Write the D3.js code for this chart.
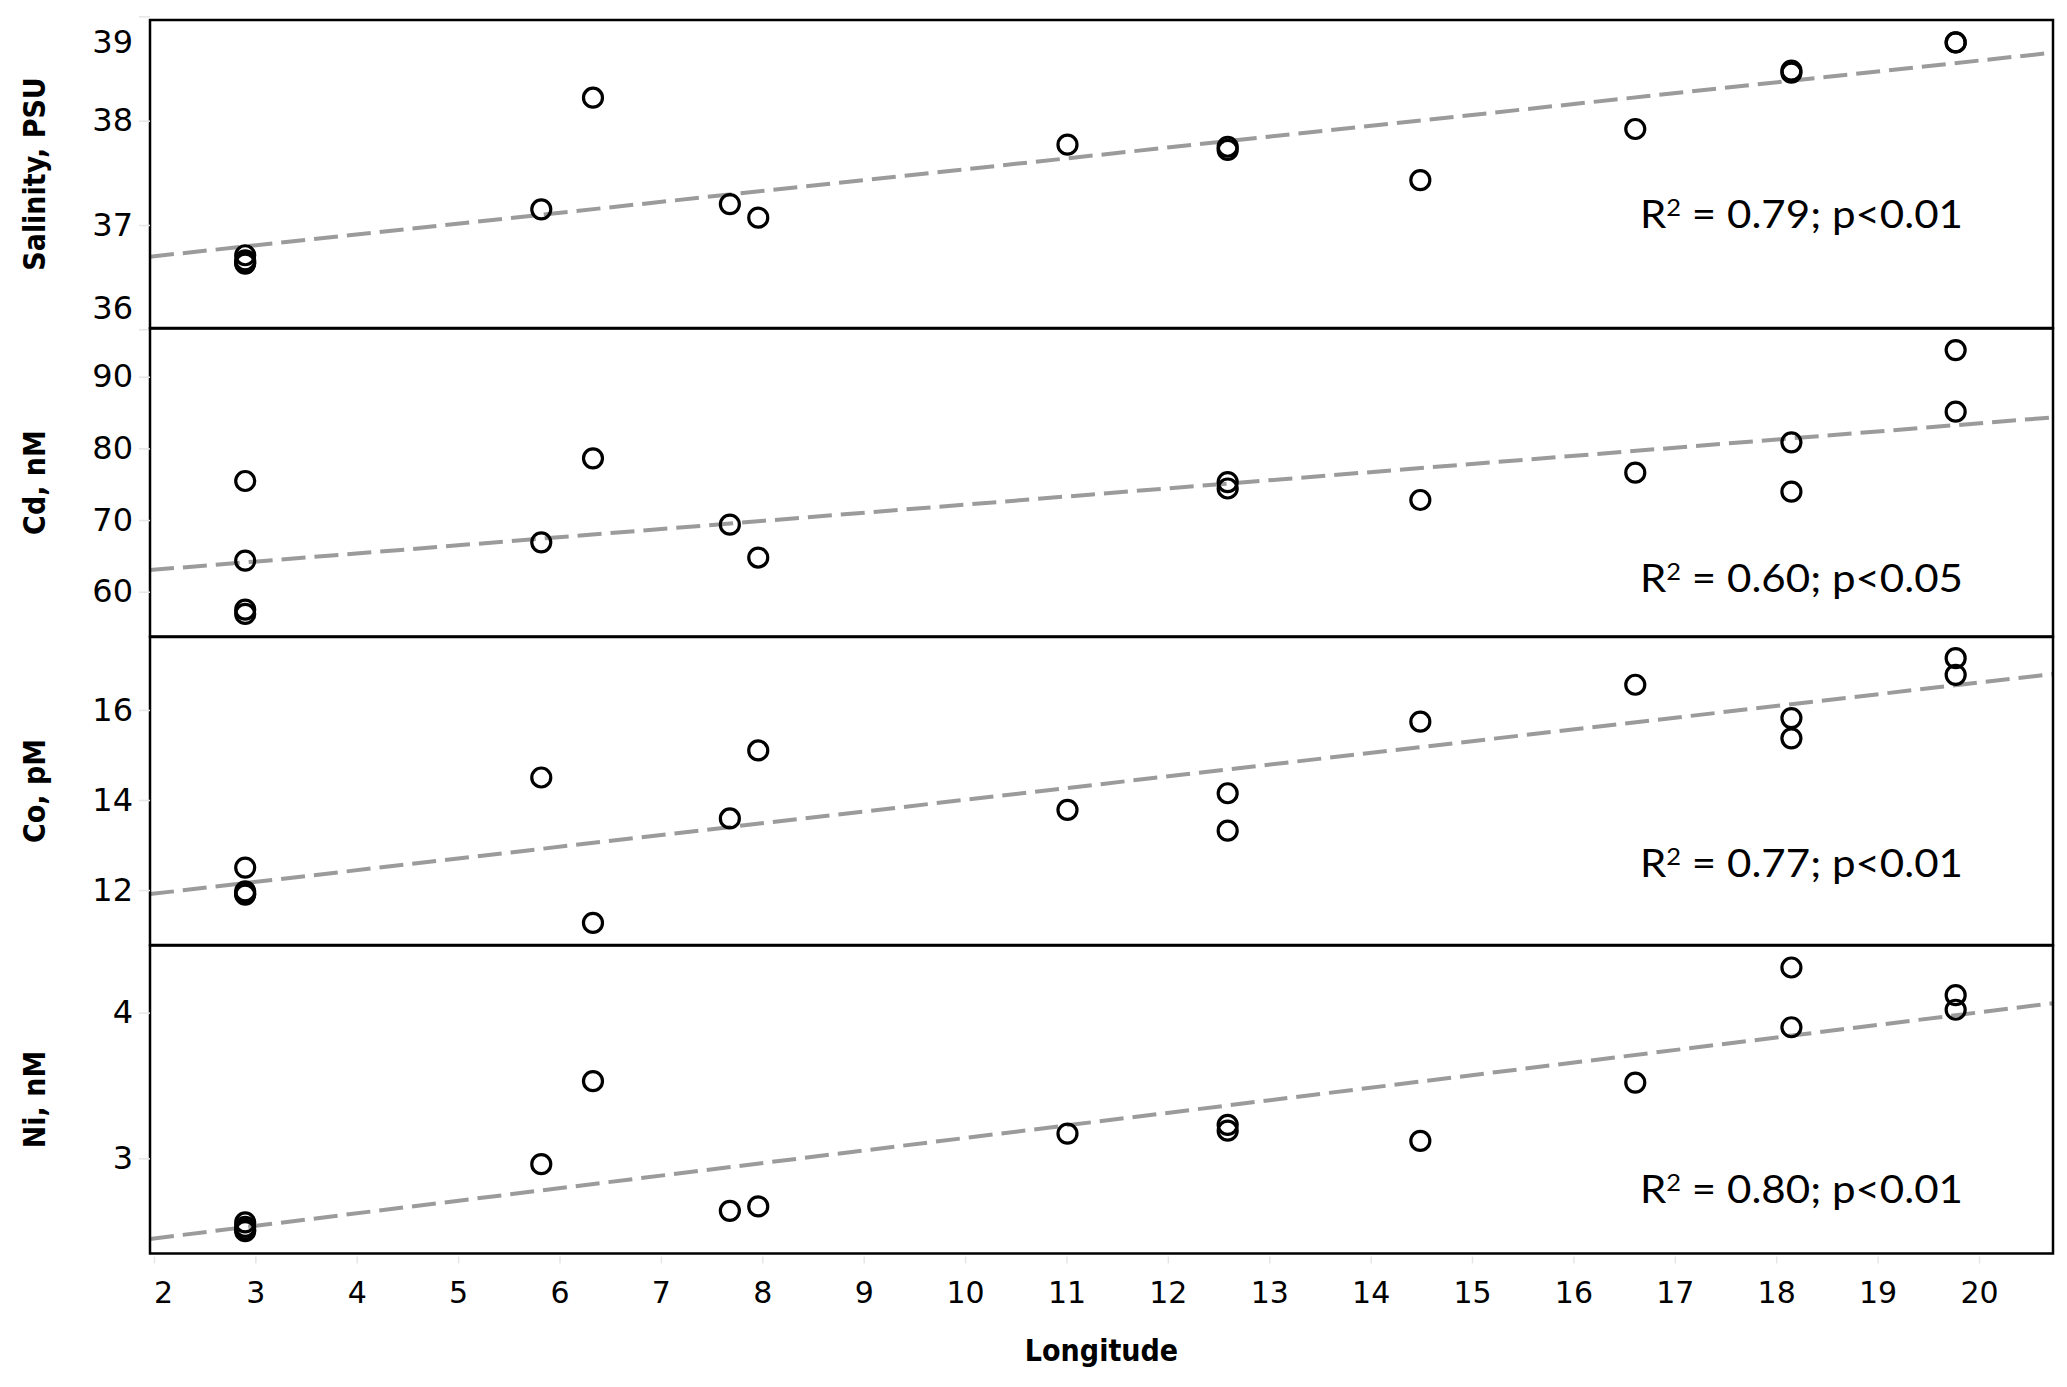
<!DOCTYPE html>
<html>
<head>
<meta charset="utf-8">
<script src="https://cdnjs.cloudflare.com/ajax/libs/d3/7.8.5/d3.min.js"></script>
<style>
  body { margin: 0; background: #fff; }
  .axis text { font-family: "DejaVu Sans", sans-serif; fill: #000; }
  .axis line { stroke: #e6e6e6; stroke-width: 1.5; }
  .axis-title {
    font-family: "DejaVu Sans Condensed", "DejaVu Sans", sans-serif;
    font-stretch: condensed;
    font-weight: bold;
    font-size: 30px;
    fill: #000;
  }
  .stat { font-family: Lato, "Open Sans", sans-serif; font-size: 38px; fill: #000; }
</style>
</head>
<body>
<div id="chart"></div>
<script>
// Sample longitudes (one entry per sample, shared by all panels)
var longitude = [2.9, 2.9, 2.9, 2.9, 5.82, 6.33, 7.68, 7.96, 11.01, 12.59, 12.59, 14.49, 16.61, 18.15, 18.15, 19.77, 19.77];

// Values (null = no point drawn)
var salinity = [36.71, 36.66, 36.64, 36.63, 37.15, 38.22, 37.20, 37.07, 37.77, 37.75, 37.72, 37.43, 37.92, 38.48, 38.46, 38.75, 38.75];
var cadmium = [75.45, 64.33, 57.5, 56.9, 66.89, 78.61, 69.35, 64.77, null, 75.3, 74.4, 72.8, 76.61, 80.85, 73.96, 93.72, 85.12];
var cobalt = [12.5, 11.97, 11.92, 11.9, 14.5, 11.27, 13.59, 15.1, 13.78, 14.15, 13.32, 15.74, 16.56, 15.82, 15.37, 17.15, 16.78];
var nickel = [2.56, 2.53, 2.51, 2.5, 2.96, 3.53, 2.64, 2.67, 3.17, 3.23, 3.19, 3.12, 3.52, 4.31, 3.9, 4.12, 4.02];

// Regression lines [intercept, slope]
var salinityFit = [36.492, 0.1042];
var cadmiumFit = [60.80, 1.135];
var cobaltFit = [11.399, 0.2605];
var nickelFit = [2.278, 0.0862];

// Axis labels and ticks
var yTitles = ["Salinity, PSU", "Cd, nM", "Co, pM", "Ni, nM"];
var yTicks = [[36, 37, 38, 39], [60, 70, 80, 90], [12, 14, 16], [3, 4]];
var stats = ["0.79; p<0.01", "0.60; p<0.05", "0.77; p<0.01", "0.80; p<0.01"];
var xTicks = d3.range(2, 21);

// Define chart size and margins
var svgWidth = 2067;
var svgHeight = 1387;

var margin = {
  top: 20,
  right: 14,
  bottom: 133,
  left: 150
};

var width = svgWidth - margin.left - margin.right;
var panelHeight = 308;
var panelGap = 0.5;

// y ranges of each panel and baseline of the R² note (from panel top)
var yDomains = [[36.0125, 38.965], [53.75, 96.73], [10.78, 17.62], [2.347, 4.461]];
var statBaseline = [208, 263, 240, 257];

var panels = [
  { values: salinity, fit: salinityFit },
  { values: cadmium, fit: cadmiumFit },
  { values: cobalt, fit: cobaltFit },
  { values: nickel, fit: nickelFit }
];

var svg = d3
  .select("#chart")
  .append("svg")
  .attr("width", svgWidth)
  .attr("height", svgHeight);

var xScale = d3.scaleLinear()
  .domain([1.961, 20.73])
  .range([0, width]);

panels.forEach(function (p, i) {
  var top = margin.top + i * (panelHeight + panelGap);

  var chartGroup = svg.append("g")
    .attr("transform", `translate(${margin.left}, ${top})`);

  var yScale = d3.scaleLinear()
    .domain(yDomains[i])
    .range([panelHeight, 0]);

  chartGroup.append("clipPath")
    .attr("id", "clip" + i)
    .append("rect")
    .attr("width", width)
    .attr("height", panelHeight);

  // dashed regression line across the whole panel
  var xd = xScale.domain();
  chartGroup.append("line")
    .attr("clip-path", `url(#clip${i})`)
    .attr("x1", xScale(xd[0]))
    .attr("y1", yScale(p.fit[0] + p.fit[1] * xd[0]))
    .attr("x2", xScale(xd[1]))
    .attr("y2", yScale(p.fit[0] + p.fit[1] * xd[1]))
    .attr("stroke", "#9b9b9b")
    .attr("stroke-width", 4)
    .attr("stroke-dasharray", "24,9");

  // open circles
  var points = longitude
    .map(function (lon, j) { return { lon: lon, v: p.values[j] }; })
    .filter(function (d) { return d.v !== null; });

  chartGroup.selectAll("circle")
    .data(points)
    .enter()
    .append("circle")
    .attr("cx", d => xScale(d.lon))
    .attr("cy", d => yScale(d.v))
    .attr("r", 9.5)
    .attr("fill", "none")
    .attr("stroke", "#000")
    .attr("stroke-width", 3.2);

  // panel frame
  chartGroup.append("rect")
    .attr("width", width)
    .attr("height", panelHeight)
    .attr("fill", "none")
    .attr("stroke", "#000")
    .attr("stroke-width", 2.5);

  // y axis (edge labels kept inside the panel)
  var leftAxis = d3.axisLeft(yScale)
    .tickValues(yTicks[i])
    .tickFormat(d3.format("d"))
    .tickSize(11)
    .tickPadding(6);

  var yAxis = chartGroup.append("g")
    .attr("class", "axis")
    .call(leftAxis);
  yAxis.select(".domain").remove();
  yAxis.selectAll("text")
    .style("font-size", "32px")
    .attr("y", function (d) {
      var yy = yScale(d);
      var c = Math.max(22, Math.min(panelHeight - 20, yy));
      return c - yy;
    });

  // y title
  chartGroup.append("text")
    .attr("class", "axis-title")
    .attr("transform", `translate(${44.6 - margin.left}, ${panelHeight / 2}) rotate(-90)`)
    .attr("text-anchor", "middle")
    .text(yTitles[i]);

  // R² note
  var note = chartGroup.append("text")
    .attr("class", "stat")
    .attr("x", 1640 - margin.left)
    .attr("y", statBaseline[i])
    .attr("textLength", 323)
    .attr("lengthAdjust", "spacingAndGlyphs");
  note.append("tspan").text("R");
  note.append("tspan").attr("dy", -12).style("font-size", "23px").text("2");
  note.append("tspan").attr("dy", 12).text(" = " + stats[i]);

  // x axis under the last panel
  if (i === panels.length - 1) {
    var bottomAxis = d3.axisBottom(xScale)
      .tickValues(xTicks)
      .tickFormat(d3.format("d"))
      .tickSize(7)
      .tickPadding(18);

    var xAxis = chartGroup.append("g")
      .attr("class", "axis")
      .attr("transform", `translate(0, ${panelHeight + 3})`)
      .call(bottomAxis);
    xAxis.select(".domain").remove();
    xAxis.selectAll("text")
      .style("font-size", "30px")
      .attr("x", d => Math.max(0, 13 - xScale(d)));

    chartGroup.append("text")
      .attr("class", "axis-title")
      .attr("x", width / 2)
      .attr("y", 1361 - top)
      .attr("text-anchor", "middle")
      .text("Longitude");
  }
});
</script>
</body>
</html>
